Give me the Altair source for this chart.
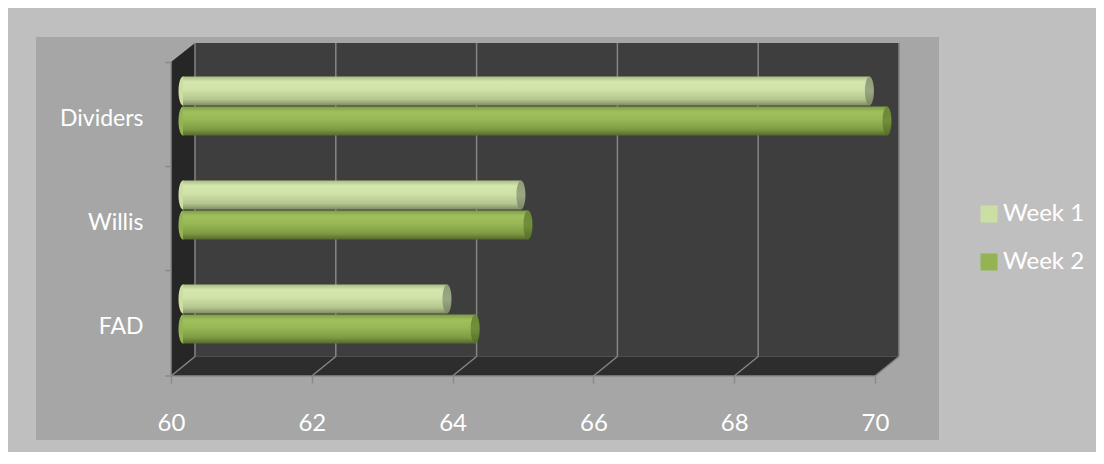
import altair as alt
import pandas as pd

# ---- data ----
categories = ["Dividers", "Willis", "FAD"]
series = ["Week 1", "Week 2"]
week1 = [69.75, 64.8, 63.75]
week2 = [70.0, 64.9, 64.15]
x_ticks = [60, 62, 64, 66, 68, 70]

rows = []
for c, a, b in zip(categories, week1, week2):
    rows.append({"cat": c, "series": series[0], "value": a})
    rows.append({"cat": c, "series": series[1], "value": b})
df = pd.DataFrame(rows)
ticks_df = pd.DataFrame({"v": x_ticks})
one = pd.DataFrame({"a": [0]})

# ---- layout (view = middle depth plane of the 3-D box) ----
W, H = 704, 312
DX, DY = 12, 9.5           # half depth offset of the 3-D box
FONT = "Lato"
GRID = "#858585"

xscale = alt.Scale(domain=[60, 70], zero=False, nice=False)
yscale = alt.Scale(domain=categories, paddingInner=0.434, paddingOuter=0.217)
oscale = alt.Scale(domain=series, paddingInner=0.04)


def grad(stops):
    return alt.Gradient(
        gradient="linear", x1=0, y1=0, x2=0, y2=1,
        stops=[alt.GradientStop(offset=o, color=c) for o, c in stops],
    )


w1_grad = grad([(0, "#aabd85"), (0.18, "#d4e7ae"), (0.45, "#cfe2a7"),
                (0.8, "#b4c58f"), (1, "#7f8d65")])
w2_grad = grad([(0, "#7f9c45"), (0.18, "#a0c05e"), (0.45, "#98b856"),
                (0.8, "#7d9a42"), (1, "#56692d")])
w1_cap = grad([(0, "#8e9b78"), (0.5, "#9aa983"), (1, "#7b8765")])
w2_cap = grad([(0, "#6c8a36"), (0.5, "#718f3a"), (1, "#566e2a")])

ELLIPSE = "M -0.31 0 A 0.31 1 0 1 0 0.31 0 A 0.31 1 0 1 0 -0.31 0 Z"

# ---- decorative frame of the 3-D plot ----
inner = alt.Chart(one).mark_rect(fill="#a6a6a6").encode(
    x=alt.value(-147), x2=alt.value(756), y=alt.value(-17), y2=alt.value(386))

back = alt.Chart(one).mark_rect(fill="#3e3e3e").encode(
    x=alt.value(DX), x2=alt.value(W + DX), y=alt.value(-DY - 1.5), y2=alt.value(H - DY))

leftwall_df = pd.DataFrame({"px": [-DX, DX], "py": [8, -DY - 1.5], "py2": [H + 10, H - DY]})
leftwall = alt.Chart(leftwall_df).mark_area(orient="vertical", fill="#262626").encode(
    x=alt.X("px:Q", scale=None, axis=None),
    y=alt.Y("py:Q", scale=None, axis=None),
    y2="py2:Q")

floor_df = pd.DataFrame({
    "px": [-DX, DX, W - DX, W + DX],
    "py": [H + 10, H - DY, H - DY, H - DY],
    "py2": [H + 10, H + 10, H + 10, H - DY]})
floor = alt.Chart(floor_df).mark_area(orient="vertical", fill="#2d2d2d").encode(
    x=alt.X("px:Q", scale=None, axis=None),
    y=alt.Y("py:Q", scale=None, axis=None),
    y2="py2:Q")

grid_back = alt.Chart(ticks_df).mark_rule(xOffset=DX, color=GRID, strokeWidth=1.5).encode(
    x=alt.X("v:Q"), y=alt.value(-DY - 1.5), y2=alt.value(H - DY))

grid_floor = alt.Chart(ticks_df).mark_rule(xOffset=DX, x2Offset=-DX, color=GRID, strokeWidth=1.5).encode(
    x=alt.X("v:Q"), x2="v:Q", y=alt.value(H - DY), y2=alt.value(H + 10))

front_line = alt.Chart(one).mark_rule(xOffset=-DX, x2Offset=-DX, color="#8a8a8a", strokeWidth=1.5).encode(
    x=alt.datum(60), x2=alt.datum(70), y=alt.value(H + 10))

left_line = alt.Chart(one).mark_rule(color="#8a8a8a", strokeWidth=1.5).encode(
    x=alt.value(-DX), y=alt.value(8), y2=alt.value(H + 10))

corner_tick = alt.Chart(one).mark_rule(color="#8a8a8a", strokeWidth=1.5).encode(
    x=alt.value(-DX - 6), x2=alt.value(-DX), y=alt.value(H + 10))

# ---- bars ----
xaxis = alt.Axis(values=x_ticks, format="d", title=None, domain=False, grid=False, zindex=1,
                 tickSize=7, tickWidth=1.5, tickColor="#8a8a8a", tickOffset=-DX,
                 offset=10, labelPadding=28, labelColor="#ffffff",
                 labelFontSize=24, labelFont=FONT, labelFlush=False)
yaxis = alt.Axis(title=None, domain=False, ticks=True, tickSize=6, tickWidth=1.5, zindex=1,
                 tickColor="#8a8a8a", offset=DX, bandPosition=0, tickOffset=-15,
                 labelOffset=27.5, labelPadding=22, labelColor="#ffffff",
                 labelFontSize=23, labelFont=FONT, labelAlign="right",
                 labelBaseline="middle")

enc_y = dict(
    y=alt.Y("cat:N", scale=yscale, sort=categories),
    yOffset=alt.YOffset("series:N", scale=oscale, sort=series),
)

left_caps = alt.Chart(df).mark_point(shape=ELLIPSE, size=841, filled=True, opacity=1,
                                      strokeWidth=0).encode(
    x=alt.datum(60),
    fill=alt.Fill("series:N", scale=alt.Scale(domain=series, range=["#cbdfa3", "#94b454"]),
                  legend=alt.Legend(title=None, orient="none", legendX=794, legendY=148,
                                    symbolType="square", symbolSize=289,
                                    symbolStrokeWidth=0, labelColor="#ffffff",
                                    labelFontSize=24, labelFont=FONT,
                                    rowPadding=24, labelOffset=2)),
    **enc_y)

bar1 = alt.Chart(df).transform_filter(alt.datum.series == series[0]).mark_bar(fill=w1_grad).encode(
    x=alt.X("value:Q", scale=xscale, axis=xaxis),
    x2=alt.datum(60),
    y=alt.Y("cat:N", scale=yscale, sort=categories, axis=yaxis),
    yOffset=alt.YOffset("series:N", scale=oscale, sort=series))

bar2 = alt.Chart(df).transform_filter(alt.datum.series == series[1]).mark_bar(fill=w2_grad).encode(
    x=alt.X("value:Q"), x2=alt.datum(60), **enc_y)

cap1 = alt.Chart(df).transform_filter(alt.datum.series == series[0]).mark_point(
    shape=ELLIPSE, size=841, filled=True, opacity=1, strokeWidth=0, fill=w1_cap).encode(
    x=alt.X("value:Q"), **enc_y)
cap2 = alt.Chart(df).transform_filter(alt.datum.series == series[1]).mark_point(
    shape=ELLIPSE, size=841, filled=True, opacity=1, strokeWidth=0, fill=w2_cap).encode(
    x=alt.X("value:Q"), **enc_y)

chart = alt.layer(
    inner, back, leftwall, floor, grid_back, grid_floor, front_line, left_line,
    corner_tick, left_caps, bar1, bar2, cap1, cap2,
).properties(
    width=W, height=H,
    padding={"left": 175, "top": 46, "right": 209, "bottom": 86},
    autosize=alt.AutoSizeParams(type="none"),
    background="#bfbfbf",
).configure_view(stroke=None)

chart.save("out.html", embed_options={"renderer": "svg", "actions": False})
